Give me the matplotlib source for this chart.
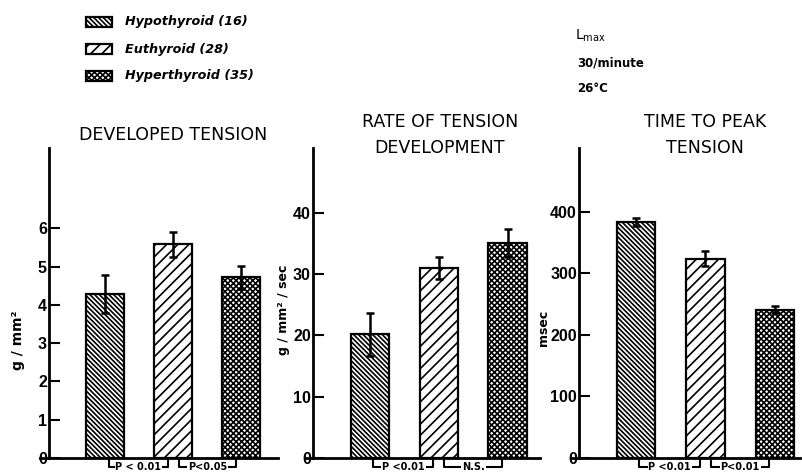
import matplotlib.pyplot as plt
from matplotlib.patches import Rectangle

# data
groups = ['Hypothyroid (16)', 'Euthyroid (28)', 'Hyperthyroid (35)']
hatches = ['\\' * 7, '///', 'x' * 6]

titles = ['DEVELOPED TENSION', 'RATE OF TENSION\nDEVELOPMENT', 'TIME TO PEAK\nTENSION']
ylabels = ['g / mm²', 'g / mm² / sec', 'msec']

dev_mean = [4.28, 5.58, 4.72]
dev_err = [0.50, 0.33, 0.30]
rate_mean = [20.2, 31.0, 35.1]
rate_err = [3.5, 1.8, 2.3]
ttp_mean = [384, 324, 241]
ttp_err = [7, 12, 6]

yticks = [[0, 1, 2, 3, 4, 5, 6], [0, 10, 20, 30, 40], [0, 100, 200, 300, 400]]
ytop = [8.1, 50.6, 504]
pvals = [['P < 0.01', 'P<0.05'], ['P <0.01', 'N.S.'], ['P <0.01', 'P<0.01']]

W, H = 802, 475


def main():
    plt.rcParams['hatch.linewidth'] = 1.2
    plt.rcParams['font.family'] = ['DejaVu Sans']
    fig = plt.figure(figsize=(W / 100, H / 100), dpi=100)

    # pixel extents of each panel: left, right, x-lim left, x-lim right, y-axis position
    panels = [(40, 278, -0.963, 2.54, -0.83),
              (305, 540, -0.945, 2.47, -0.83),
              (571, 800, -0.935, 2.36, -0.82)]
    means = [dev_mean, rate_mean, ttp_mean]
    errs = [dev_err, rate_err, ttp_err]
    top, bot = 148, 458
    title_x = [173, 440, 705]

    for i, (l, r, xl, xr, yax) in enumerate(panels):
        ax = fig.add_axes([l / W, 1 - bot / H, (r - l) / W, (bot - top) / H])
        x = range(3)
        for j in x:
            ax.bar(j, means[i][j], width=0.56, facecolor='white', edgecolor='black',
                   linewidth=1.6, hatch=hatches[j], zorder=2)
        ax.errorbar(list(x), means[i], yerr=errs[i], fmt='none', ecolor='black',
                    elinewidth=1.8, capsize=3, capthick=1.8, zorder=3)
        ax.set_xlim(xl, xr)
        ax.set_ylim(0, ytop[i])
        ax.spines['top'].set_visible(False)
        ax.spines['right'].set_visible(False)
        ax.spines['left'].set_position(('data', yax))
        ax.spines['left'].set_linewidth(2)
        ax.spines['bottom'].set_linewidth(2)
        ax.set_xticks([])
        ax.set_yticks(yticks[i])
        ax.tick_params(axis='y', direction='in', length=8, width=1.5, pad=1.5, labelsize=11.5)
        for t in ax.get_yticklabels():
            t.set_family('Liberation Sans')
            t.set_fontweight('bold')

        # significance brackets under the axis
        trans = ax.get_xaxis_transform()
        for (x0, x1), lab in zip([(0.05, 0.92), (1.08, 1.92)], pvals[i]):
            ax.plot([x0, x0, x1, x1], [-0.004, -0.029, -0.029, -0.004], color='black',
                    lw=1.5, transform=trans, clip_on=False)
            ax.text((x0 + x1) / 2, -0.029, lab, transform=trans, ha='center', va='center',
                    fontsize=7, fontweight='bold',
                    bbox=dict(facecolor='white', edgecolor='none', pad=0.6))

        fig.text(title_x[i] / W, 1 - 135 / H, titles[i], ha='center', va='center',
                 fontsize=12.5, linespacing=1.55)

    fig.text(18 / W, 1 - 340 / H, ylabels[0], rotation=90, ha='center', va='center',
             fontsize=10, fontweight='bold')
    fig.text(284 / W, 1 - 310 / H, ylabels[1], rotation=90, ha='center', va='center',
             fontsize=9, fontweight='bold')
    fig.text(543 / W, 1 - 328 / H, ylabels[2], rotation=90, ha='center', va='center',
             fontsize=9, fontweight='bold')

    # legend
    for k, g in enumerate(groups):
        yc = 22 + 27 * k
        fig.add_artist(Rectangle((86 / W, 1 - (yc + 5) / H), 26 / W, 10 / H,
                                 transform=fig.transFigure, facecolor='white',
                                 edgecolor='black', lw=1.6, hatch=hatches[k]))
        fig.text(125 / W, 1 - yc / H, g, ha='left', va='center', fontsize=9.2,
                 fontstyle='italic', fontweight='bold')

    fig.text(575 / W, 1 - 36 / H, r'L$_{\mathrm{max}}$', ha='left', va='center', fontsize=10)
    fig.text(577 / W, 1 - 63 / H, '30/minute', ha='left', va='center', fontsize=8.5,
             fontweight='bold')
    fig.text(577 / W, 1 - 88 / H, '26°C', ha='left', va='center', fontsize=8.5,
             fontweight='bold')

    fig.savefig('out.png', dpi=100)


if __name__ == '__main__':
    main()
